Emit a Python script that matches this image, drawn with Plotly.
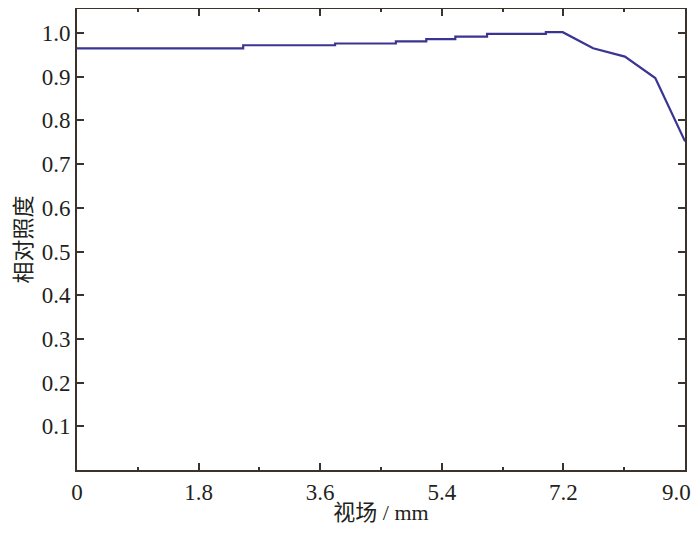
import plotly.graph_objects as go

# field of view (mm) and relative illumination
field_mm = [0.0, 2.46, 2.46, 3.82, 3.82, 4.72, 4.72, 5.17, 5.17, 5.6, 5.6,
            6.07, 6.07, 6.94, 6.94, 7.19, 7.64, 8.11, 8.56, 9.0]
rel_illum = [0.965, 0.965, 0.972, 0.972, 0.976, 0.976, 0.981, 0.981, 0.986, 0.986, 0.992,
             0.992, 0.998, 0.998, 1.002, 1.002, 0.965, 0.946, 0.897, 0.752]

x_ticks = [0, 1.8, 3.6, 5.4, 7.2, 9.0]
# trailing no-break spaces pull the last label left so the page edge doesn't cut it
x_labels = ['0', '1.8', '3.6', '5.4', '7.2', '9.0\u00a0\u00a0\u00a0']
y_ticks = [0.1, 0.2, 0.3, 0.4, 0.5, 0.6, 0.7, 0.8, 0.9, 1.0]
y_labels = ['0.1', '0.2', '0.3', '0.4', '0.5', '0.6', '0.7', '0.8', '0.9', '1.0']

font_family = '"Liberation Serif", "Times New Roman", "Noto Sans CJK SC", serif'
axis_color = '#3b322c'

fig = go.Figure()
fig.add_trace(go.Scatter(x=field_mm, y=rel_illum, mode='lines',
                         line=dict(color='#3a3592', width=2.2),
                         showlegend=False))

# page body adds 8px around the figure, so size is a bit smaller than the window
fig.update_layout(
    width=692, height=517,
    margin=dict(l=69, r=15, t=1, b=55),
    paper_bgcolor='white', plot_bgcolor='white',
    font=dict(family=font_family, size=23, color='#231f1c'),
)
fig.update_xaxes(range=[0, 9.0], tickvals=x_ticks, ticktext=x_labels,
                 ticklabeloverflow='allow', automargin=False,
                 showgrid=False, zeroline=False,
                 showline=True, linecolor=axis_color, linewidth=2, mirror='ticks',
                 ticks='inside', ticklen=7, tickwidth=1.5, tickcolor=axis_color,
                 minor=dict(dtick=0.9, ticks='inside', ticklen=3, tickwidth=1.5,
                            tickcolor=axis_color, showgrid=False),
                 title=dict(text='视场 / mm', standoff=4, font=dict(size=22)))
fig.update_yaxes(range=[0, 1.055], tickvals=y_ticks, ticktext=y_labels,
                 automargin=False,
                 showgrid=False, zeroline=False,
                 showline=True, linecolor=axis_color, linewidth=2, mirror='ticks',
                 ticks='inside', ticklen=7, tickwidth=1.5, tickcolor=axis_color,
                 title=dict(text='相对照度', standoff=4, font=dict(size=22)))

fig.write_html("out.html")
